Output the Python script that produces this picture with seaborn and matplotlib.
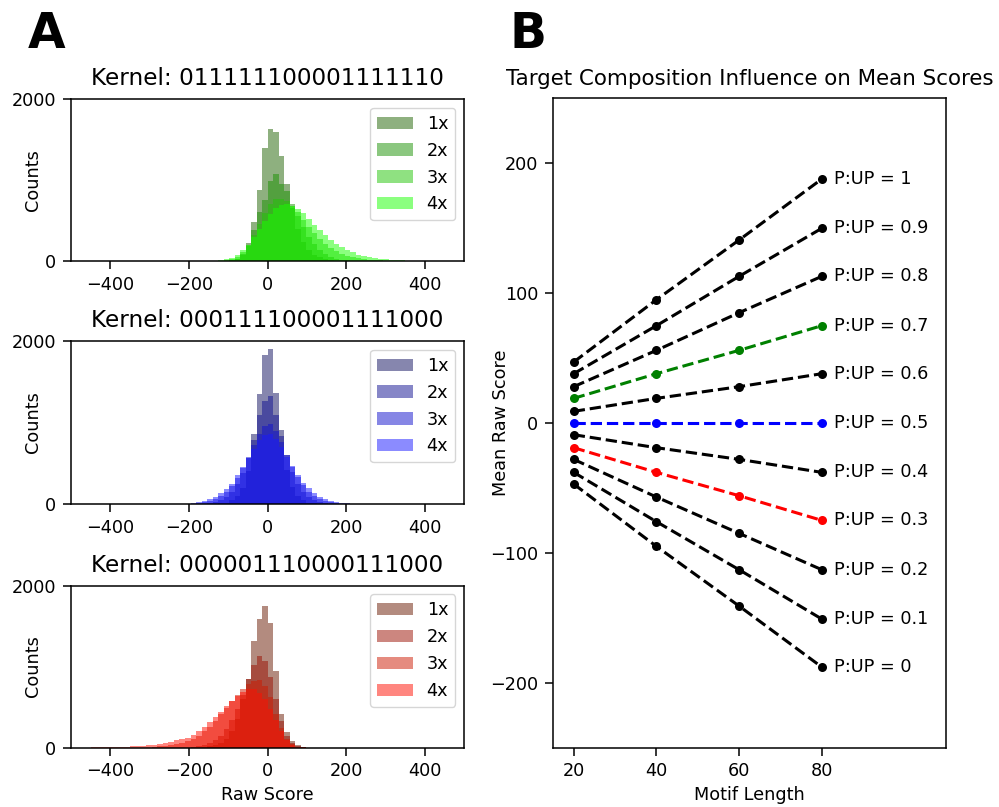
import numpy as np
import pandas as pd
import matplotlib
matplotlib.use('Agg')
import matplotlib.pyplot as plt
import seaborn as sns

# Histogram-Daten (Zaehlungen je Bin, Binbreite 14, Start = linke Kante des ersten Bins)
bin_width = 14
multipliers = ['1x', '2x', '3x', '4x']

green_starts = [-98, -112, -126, -126]
green_1x = [10, 30, 90, 218, 477, 877, 1400, 1630, 1594, 1300, 950, 650, 400, 240, 140, 80, 45, 25, 12, 5]
green_2x = [5, 10, 30, 80, 190, 380, 600, 750, 990, 1080, 950, 870, 700, 560, 420, 300, 210, 140, 90, 55, 30, 18, 10, 5]
green_3x = [5, 10, 25, 55, 110, 200, 320, 460, 590, 700, 760, 770, 740, 680, 600, 510, 420, 340, 270, 210,
            160, 120, 88, 64, 46, 32, 22, 15, 10, 6, 4]
green_4x = [10, 20, 40, 75, 130, 200, 290, 390, 490, 580, 650, 690, 700, 680, 640, 590, 520, 450, 380, 320,
            260, 210, 170, 135, 105, 80, 62, 48, 36, 26, 19, 13, 9, 6, 4, 3, 2]

blue_starts = [-126, -168, -196, -210]
blue_1x = [6, 18, 45, 100, 200, 400, 854, 1349, 1823, 1897, 1361, 907, 420, 210, 100, 45, 18, 6]
blue_2x = [5, 12, 25, 50, 90, 150, 250, 380, 560, 780, 1090, 1260, 1320, 1090, 840, 600, 390, 250, 150, 90,
           50, 25, 12, 5]
blue_3x = [5, 10, 20, 35, 60, 95, 150, 220, 320, 440, 580, 720, 860, 960, 980, 900, 760, 600, 450, 330,
           230, 150, 100, 60, 35, 20, 10, 5]
blue_4x = [5, 10, 20, 35, 55, 85, 130, 180, 250, 350, 450, 560, 680, 790, 850, 860, 800, 700, 580, 460,
           350, 260, 190, 130, 90, 60, 38, 22, 12, 6]

red_starts = [-154, -196, -294, -462]
red_1x = [15, 30, 60, 110, 200, 350, 600, 850, 1320, 1588, 1753, 1538, 948, 412, 194, 82, 30, 10]
red_2x = [10, 20, 35, 60, 95, 150, 230, 340, 480, 650, 850, 1020, 1130, 1070, 870, 600, 330, 150, 55, 15, 5]
red_3x = [10, 15, 22, 30, 42, 58, 80, 110, 150, 200, 260, 330, 410, 490, 570, 650, 720, 780, 820, 830,
          760, 620, 420, 240, 110, 40, 12, 4]
red_4x = [2, 3, 4, 5, 6, 8, 10, 12, 15, 18, 22, 28, 35, 45, 60, 75, 90, 105, 125, 160,
          205, 255, 320, 375, 440, 510, 580, 640, 690, 720, 720, 680, 600, 480, 340, 200, 95, 35, 10, 3]

kernels = ['011111100001111110', '000111100001111000', '000001110000111000']

# Mittelwerte fuer Panel B
motif_lengths = [20, 40, 60, 80]
pup_labels = ['1', '0.9', '0.8', '0.7', '0.6', '0.5', '0.4', '0.3', '0.2', '0.1', '0']
mean_p10 = [47, 95, 141, 188]
mean_p09 = [38, 75, 113, 150]
mean_p08 = [28, 56, 85, 113]
mean_p07 = [19, 38, 56, 75]
mean_p06 = [9, 19, 28, 38]
mean_p05 = [0, 0, 0, 0]
mean_p04 = [-9, -19, -28, -38]
mean_p03 = [-19, -38, -56, -75]
mean_p02 = [-28, -57, -85, -113]
mean_p01 = [-38, -76, -113, -151]
mean_p00 = [-47, -95, -141, -188]
line_colors = ['black', 'black', 'black', 'green', 'black', 'blue', 'black', 'red', 'black', 'black', 'black']

green_cols = ['#1f6300', '#199100', '#21c505', '#19ff00']
blue_cols = ['#0f0f5f', '#0f0f91', '#0f0fcd', '#1919ff']
red_cols = ['#691900', '#9b0f00', '#cd1900', '#ff0f00']

panels = [
    (kernels[0], green_starts, [green_1x, green_2x, green_3x, green_4x], green_cols),
    (kernels[1], blue_starts, [blue_1x, blue_2x, blue_3x, blue_4x], blue_cols),
    (kernels[2], red_starts, [red_1x, red_2x, red_3x, red_4x], red_cols),
]

fs = 12.7
plt.rcParams['axes.linewidth'] = 1.1
fig = plt.figure(figsize=(9.99, 8.07), dpi=100)
hist_pos = [[0.0711, 0.6766, 0.3934, 0.2007],
            [0.0711, 0.3755, 0.3934, 0.2019],
            [0.0711, 0.0735, 0.3934, 0.2009]]

for i, (kern, starts, series, cols) in enumerate(panels):
    ax = fig.add_axes(hist_pos[i])
    for lab, start, counts, col in zip(multipliers, starts, series, cols):
        centers = start + bin_width * np.arange(len(counts)) + bin_width / 2
        df = pd.DataFrame({'score': centers, 'count': counts})
        sns.histplot(data=df, x='score', weights='count', binwidth=bin_width,
                     binrange=(start, start + bin_width * len(counts)), color=col, alpha=0.5,
                     edgecolor='none', linewidth=0, label=lab, ax=ax)
    ax.set_xlim(-500, 500)
    ax.set_ylim(0, 2000)
    ax.set_yticks([0, 2000])
    ax.set_xticks([-400, -200, 0, 200, 400])
    ax.tick_params(labelsize=fs, length=5.5, width=1.1, pad=5)
    ax.set_ylabel('Counts', fontsize=fs)
    ax.yaxis.set_label_coords(-0.074, 0.5)
    ax.set_xlabel('Raw Score' if i == 2 else '', fontsize=fs)
    ax.set_title('Kernel: ' + kern, fontsize=16.7, pad=10)
    ax.legend(loc='upper right', fontsize=fs)

axb = fig.add_axes([0.5536, 0.0735, 0.3934, 0.8046])
all_means = [mean_p10, mean_p09, mean_p08, mean_p07, mean_p06, mean_p05,
             mean_p04, mean_p03, mean_p02, mean_p01, mean_p00]
for lab, vals, col in zip(pup_labels, all_means, line_colors):
    sns.lineplot(x=motif_lengths, y=vals, color=col, linestyle='--', linewidth=2.2,
                 marker='o', markersize=6.5, markeredgecolor=col, markeredgewidth=0, ax=axb)
    axb.text(83, vals[-1], 'P:UP = ' + lab, va='center', ha='left', fontsize=fs)
axb.set_xlim(15, 110)
axb.set_ylim(-250, 250)
axb.set_xticks([20, 40, 60, 80])
axb.set_yticks([-200, -100, 0, 100, 200])
axb.tick_params(labelsize=fs, length=5.5, width=1.1, pad=5)
axb.set_xlabel('Motif Length', fontsize=fs)
axb.set_ylabel('Mean Raw Score', fontsize=fs)
axb.yaxis.set_label_coords(-0.109, 0.5)
axb.set_title('Target Composition Influence on Mean Scores', fontsize=15.4, pad=9.5)

fig.text(47 / 999, 1 - 34 / 807, 'A', fontsize=35, fontweight='bold', ha='center', va='center')
fig.text(528 / 999, 1 - 34 / 807, 'B', fontsize=35, fontweight='bold', ha='center', va='center')

fig.savefig('out.png', dpi=100)
